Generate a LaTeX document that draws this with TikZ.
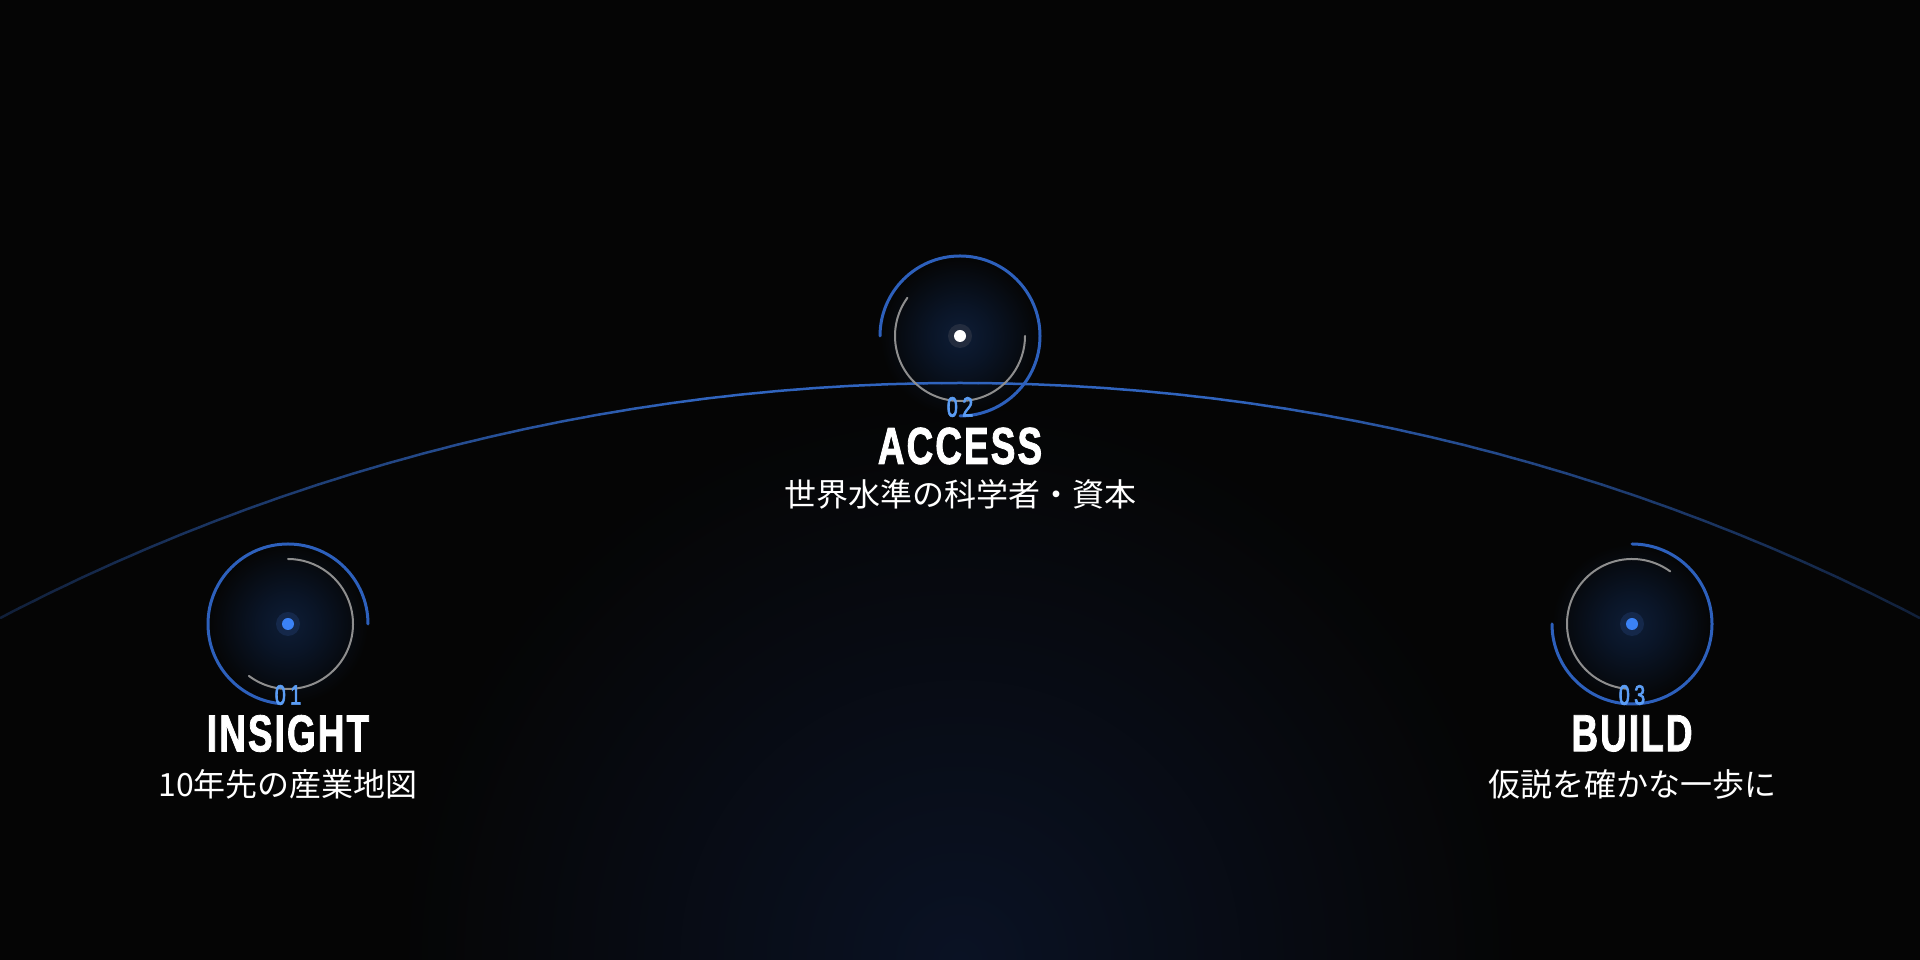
\documentclass[tikz,border=0pt]{standalone}
\usepackage{fontspec}
\usetikzlibrary{calc}
\setmainfont{Liberation Sans}
\newfontfamily\titlefont[FakeStretch=0.71,FakeBold=1.5,LetterSpace=4]{Liberation Sans}
\newfontfamily\numfont[FakeStretch=0.7,FakeBold=2.5,LetterSpace=16]{Liberation Sans}
\newfontfamily\jpfont{Noto Sans CJK JP}
\definecolor{bgc}{HTML}{050505}
\definecolor{glowc}{HTML}{0E1D36}
\definecolor{glowm}{HTML}{0A1527}
\definecolor{ringblue}{HTML}{2D60BC}
\definecolor{ringgray}{HTML}{8E8E8E}
\definecolor{numblue}{HTML}{5B9DF5}
\definecolor{dotblue}{HTML}{3B82F6}
\definecolor{halob}{HTML}{15284A}
\definecolor{halow}{HTML}{232C3E}
\definecolor{arcblue}{HTML}{3064BE}
\definecolor{floorc}{HTML}{0A1224}
\pgfdeclareradialshading{ringglow}{\pgfpoint{0bp}{0bp}}{color(0bp)=(glowc); color(9bp)=(glowm); color(25bp)=(bgc); color(50bp)=(bgc)}
\pgfdeclareradialshading{floorglow}{\pgfpoint{0bp}{0bp}}{color(0bp)=(floorc); color(25bp)=(bgc); color(50bp)=(bgc)}
\begin{document}
\begin{tikzpicture}[x=1pt,y=1pt,
  outerring/.style={draw=ringblue, line width=3, line cap=round},
  innerring/.style={draw=ringgray, line width=2, line cap=round},
  titlesty/.style={font=\titlefont\bfseries\fontsize{52}{60}\selectfont, text=white, inner sep=0},
  numsty/.style={font=\numfont\fontsize{28}{30}\selectfont, text=numblue, inner sep=0},
  substy/.style={font=\jpfont\fontsize{32}{38}\selectfont, text=white, inner sep=0}]
\fill[bgc] (0,0) rectangle (1920,960);
\useasboundingbox (0,0) rectangle (1920,960);
\begin{scope}
\clip (0,0) rectangle (1920,960);
\shade[shading=floorglow] (960,0) ellipse [x radius=560, y radius=560];
\end{scope}
\coordinate (n1) at (288,336);
\coordinate (n2) at (960,624);
\coordinate (n3) at (1632,336);
\coordinate (ac) at (960,-1501);
% glows
\foreach \n in {n1,n2,n3} {\shade[shading=ringglow] (\n) circle (80);}
% horizon arc
\foreach \i in {0,...,109} {
  \pgfmathsetmacro{\a}{62.5+0.5*\i}
  \pgfmathsetmacro{\xx}{960+2078*cos(\a+0.25)}
  \pgfmathsetmacro{\dd}{960-abs(\xx-960)}
  \pgfmathsetmacro{\pp}{min(100,28+72*(\dd/700))}
  \draw[line width=2.5, color=arcblue!\pp!bgc, line cap=round] ($(ac)+(\a:2078)$) arc[start angle=\a, end angle=\a+0.5, radius=2078];
}
% node 1
\draw[innerring] ($(n1)+(-127:65)$) arc[start angle=-127, end angle=90, radius=65];
\draw[outerring] ($(n1)+(0:80)$) arc[start angle=0, end angle=263, radius=80];
\fill[halob] (n1) circle (12);
\fill[dotblue] (n1) circle (6);
% node 2
\draw[innerring] ($(n2)+(144:65)$) arc[start angle=144, end angle=360, radius=65];
\draw[outerring] ($(n2)+(-90:80)$) arc[start angle=-90, end angle=180, radius=80];
\fill[halow] (n2) circle (12);
\fill[white] (n2) circle (6);
% node 3
\draw[innerring] ($(n3)+(54:65)$) arc[start angle=54, end angle=266, radius=65];
\draw[outerring] ($(n3)+(180:80)$) arc[start angle=180, end angle=450, radius=80];
\fill[halob] (n3) circle (12);
\fill[dotblue] (n3) circle (6);
% labels
\node[numsty] (num1) at (288,265) {01};
\node[titlesty] (t1) at (288,226.5) {INSIGHT};
\node[substy] (s1) at (288,176) {10年先の産業地図};
\node[numsty] (num2) at (960,553) {02};
\node[titlesty] (t2) at (960,514) {ACCESS};
\node[substy] (s2) at (960,466) {世界水準の科学者・資本};
\node[numsty] (num3) at (1632,265) {03};
\node[titlesty] (t3) at (1632,226.5) {BUILD};
\node[substy] (s3) at (1632,176) {仮説を確かな一歩に};
\end{tikzpicture}
\end{document}
